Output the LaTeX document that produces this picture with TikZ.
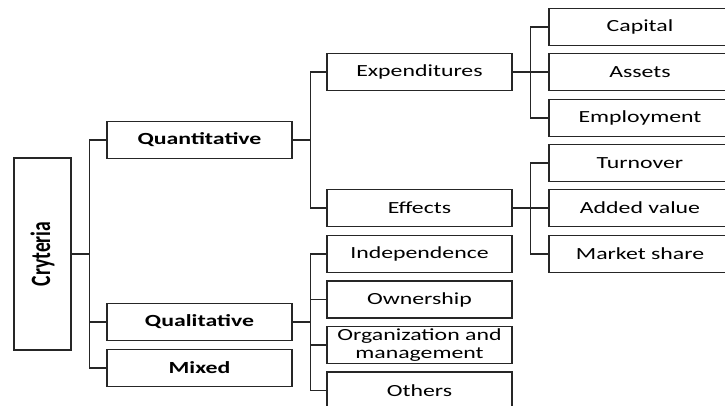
\documentclass[tikz,border=0pt]{standalone}
\usepackage{fontspec}
\usepackage{tikz}
\setmainfont{Carlito}[FakeStretch=1.4]
\newfontfamily\narrowfont{Carlito}[FakeStretch=0.7]

\begin{document}
\begin{tikzpicture}[x=1pt,y=-1pt,
  box/.style={draw=black!85,line width=1.3pt,minimum width=185pt,minimum height=37pt,
    inner sep=0pt,align=center,font=\fontsize{17}{18}\selectfont},
  head/.style={box,font=\fontsize{17}{18}\selectfont\bfseries},
  leaf/.style={box,minimum width=182pt},
  link/.style={draw=black!85,line width=1.3pt}]
\useasboundingbox (0,0) rectangle (725,406);
\clip (0,0) rectangle (725,406);
% root, written upwards
\node[box,rotate=90,minimum width=192pt,minimum height=57pt,
  font=\narrowfont\fontsize{28}{28}\selectfont\bfseries] (cry) at (42.5,254) {Cryteria};
% first level
\node[head] (quan)  at (199.5,140) {Quantitative};
\node[head] (qual)  at (199.5,322) {Qualitative};
\node[head] (mixed) at (199.5,368) {Mixed};
% second level
\node[box] (exp)    at (419.5,72)    {Expenditures};
\node[box] (eff)    at (419.5,208)   {Effects};
\node[box] (indep)  at (419.5,254)   {Independence};
\node[box] (own)    at (419.5,299.5) {Ownership};
\node[box] (org)    at (419.5,345)   {Organization and\\management};
\node[box] (others) at (419.5,390.5) {Others};
% third level
\node[leaf] (cap)  at (640,27)  {Capital};
\node[leaf] (ass)  at (640,72)  {Assets};
\node[leaf] (emp)  at (640,118) {Employment};
\node[leaf] (turn) at (640,163) {Turnover};
\node[leaf] (add)  at (640,208) {Added value};
\node[leaf] (mkt)  at (640,254) {Market share};
% elbow links parent -> children (root is turned, so its right side is south)
\foreach \c in {quan,qual,mixed}
  \draw[link] (cry.south) -- ++(18,0) |- (\c.west);
\foreach \c in {exp,eff}
  \draw[link] (quan.east) -- ++(18,0) |- (\c.west);
\foreach \c in {indep,own,org,others}
  \draw[link] (qual.east) -- ++(18,0) |- (\c.west);
\foreach \c in {cap,ass,emp}
  \draw[link] (exp.east) -- ++(18,0) |- (\c.west);
\foreach \c in {turn,add,mkt}
  \draw[link] (eff.east) -- ++(18,0) |- (\c.west);
\end{tikzpicture}
\end{document}
